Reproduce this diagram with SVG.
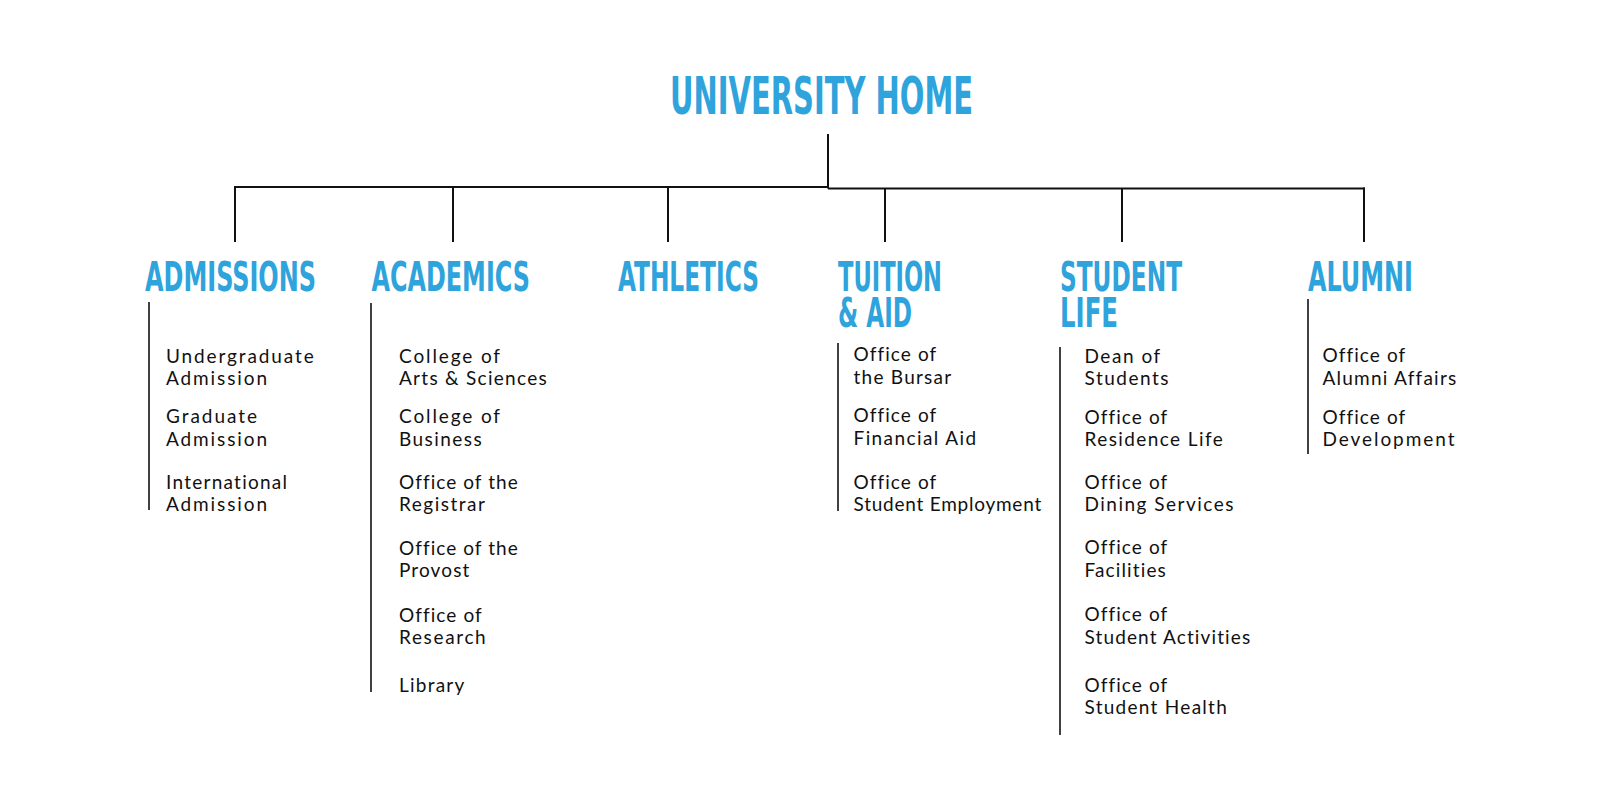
<svg xmlns="http://www.w3.org/2000/svg" width="1600" height="800" viewBox="0 0 1600 800">
<style>
.bg{fill:#ffffff}
.h{font-family:"Liberation Sans Narrow","DejaVu Sans Condensed","Roboto",sans-serif;font-weight:700;fill:#2ea3dc}
.h1{font-size:51px}
.h2{font-size:41px}
.t{font-family:"Lato","Open Sans",sans-serif;font-size:19px;fill:#111111;font-variant-ligatures:none}
.c{stroke:#111111;stroke-width:2;fill:none}
.b{stroke:#111111;stroke-width:1.6;fill:none}
</style>
<rect class="bg" x="0" y="0" width="1600" height="800"/>
<g id="connectors">
<line class="c" x1="828" y1="134" x2="828" y2="188.5"/>
<line class="c" x1="234" y1="187" x2="829" y2="187"/>
<line class="c" x1="828" y1="188.5" x2="1365" y2="188.5"/>
<line class="c" x1="235" y1="186" x2="235" y2="242"/>
<line class="c" x1="453" y1="187" x2="453" y2="242"/>
<line class="c" x1="668" y1="187" x2="668" y2="242"/>
<line class="c" x1="885" y1="188" x2="885" y2="242"/>
<line class="c" x1="1122" y1="188" x2="1122" y2="242"/>
<line class="c" x1="1364" y1="187.5" x2="1364" y2="242"/>
</g>
<g id="home">
<text class="h h1" transform="translate(670,114) scale(0.7,1)" x="0" y="0" textLength="432.9" lengthAdjust="spacingAndGlyphs">UNIVERSITY HOME</text>
</g>
<g id="admissions">
<text class="h h2" transform="translate(145,290.5) scale(0.7,1)" x="0" y="0" textLength="244.3" lengthAdjust="spacingAndGlyphs">ADMISSIONS</text>
<line class="b" x1="149" y1="302" x2="149" y2="510"/>
<text class="t" x="166" y="363" textLength="147.7">Undergraduate</text>
<text class="t" x="166" y="385" textLength="101">Admission</text>
<text class="t" x="166" y="423" textLength="91">Graduate</text>
<text class="t" x="166" y="446" textLength="101">Admission</text>
<text class="t" x="166" y="489" textLength="121">International</text>
<text class="t" x="166" y="511" textLength="101">Admission</text>
</g>
<g id="academics">
<text class="h h2" transform="translate(371.5,290.5) scale(0.7,1)" x="0" y="0" textLength="226.4" lengthAdjust="spacingAndGlyphs">ACADEMICS</text>
<line class="b" x1="371" y1="303" x2="371" y2="692"/>
<text class="t" x="399" y="363" textLength="101">College of</text>
<text class="t" x="399" y="385" textLength="147.7">Arts &amp; Sciences</text>
<text class="t" x="399" y="423" textLength="101">College of</text>
<text class="t" x="399" y="446" textLength="82.7">Business</text>
<text class="t" x="399" y="489" textLength="118.7">Office of the</text>
<text class="t" x="399" y="511" textLength="86">Registrar</text>
<text class="t" x="399" y="555" textLength="118.7">Office of the</text>
<text class="t" x="399" y="577" textLength="70.3">Provost</text>
<text class="t" x="399" y="622" textLength="82.7">Office of</text>
<text class="t" x="399" y="643.5" textLength="86.7">Research</text>
<text class="t" x="399" y="692" textLength="65.3">Library</text>
</g>
<g id="athletics">
<text class="h h2" transform="translate(618,290.5) scale(0.7,1)" x="0" y="0" textLength="201.4" lengthAdjust="spacingAndGlyphs">ATHLETICS</text>
</g>
<g id="tuition">
<text class="h h2" transform="translate(838,290.5) scale(0.7,1)"><tspan x="0" y="0" textLength="148.6" lengthAdjust="spacingAndGlyphs">TUITION</tspan><tspan x="0" y="36.5" textLength="105.7" lengthAdjust="spacingAndGlyphs">&amp; AID</tspan></text>
<line class="b" x1="838" y1="343" x2="838" y2="511"/>
<text class="t" x="853.5" y="361" textLength="82.7">Office of</text>
<text class="t" x="853.5" y="383.5" textLength="97.7">the Bursar</text>
<text class="t" x="853.5" y="422" textLength="82.7">Office of</text>
<text class="t" x="853.5" y="445" textLength="122.7">Financial Aid</text>
<text class="t" x="853.5" y="488.5" textLength="82.7">Office of</text>
<text class="t" x="853.5" y="511" textLength="187.7">Student Employment</text>
</g>
<g id="student-life">
<text class="h h2" transform="translate(1060,290.5) scale(0.7,1)"><tspan x="0" y="0" textLength="174.3" lengthAdjust="spacingAndGlyphs">STUDENT</tspan><tspan x="0" y="36.5" textLength="82.9" lengthAdjust="spacingAndGlyphs">LIFE</tspan></text>
<line class="b" x1="1060" y1="347" x2="1060" y2="735"/>
<text class="t" x="1084.5" y="362.5" textLength="75.7">Dean of</text>
<text class="t" x="1084.5" y="385" textLength="84">Students</text>
<text class="t" x="1084.5" y="423.5" textLength="82.7">Office of</text>
<text class="t" x="1084.5" y="446" textLength="138.3">Residence Life</text>
<text class="t" x="1084.5" y="488.5" textLength="82.7">Office of</text>
<text class="t" x="1084.5" y="511" textLength="149">Dining Services</text>
<text class="t" x="1084.5" y="554" textLength="82.7">Office of</text>
<text class="t" x="1084.5" y="577" textLength="81.3">Facilities</text>
<text class="t" x="1084.5" y="621" textLength="82.7">Office of</text>
<text class="t" x="1084.5" y="643.5" textLength="165.7">Student Activities</text>
<text class="t" x="1084.5" y="692" textLength="82.7">Office of</text>
<text class="t" x="1084.5" y="714" textLength="142.3">Student Health</text>
</g>
<g id="alumni">
<text class="h h2" transform="translate(1308,290.5) scale(0.7,1)" x="0" y="0" textLength="150" lengthAdjust="spacingAndGlyphs">ALUMNI</text>
<line class="b" x1="1308" y1="299" x2="1308" y2="454"/>
<text class="t" x="1322.5" y="362" textLength="82.7">Office of</text>
<text class="t" x="1322.5" y="384.5" textLength="133.7">Alumni Affairs</text>
<text class="t" x="1322.5" y="423.5" textLength="82.7">Office of</text>
<text class="t" x="1322.5" y="446" textLength="132">Development</text>
</g>
</svg>
